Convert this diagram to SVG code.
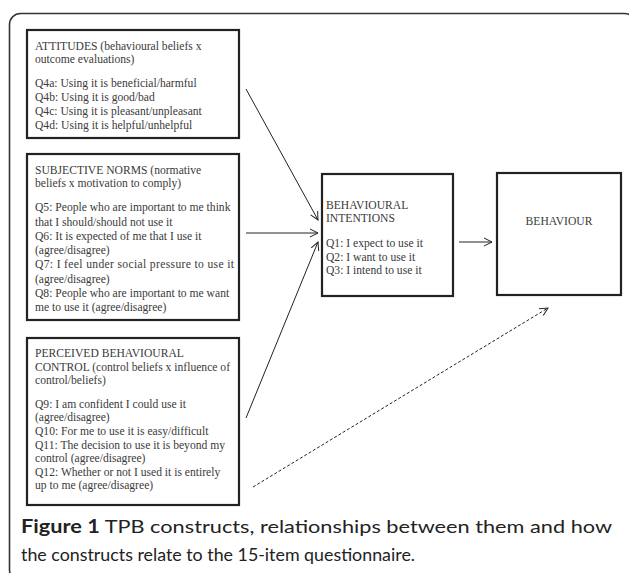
<svg xmlns="http://www.w3.org/2000/svg" width="629" height="573" viewBox="0 0 629 573">
<defs>
<marker id="ah" markerWidth="10" markerHeight="10" refX="9" refY="5" orient="auto" markerUnits="userSpaceOnUse">
<path d="M1,1 L9,5 L1,9" fill="none" stroke="#222" stroke-width="1"/>
</marker>
</defs>
<style>
.box{fill:#fff;stroke:#222;stroke-width:2.2}
.t{font-family:"Liberation Serif","Times New Roman",serif;font-size:11.6px;fill:#3a3a3a}
.c{stroke:#222;stroke-width:1;fill:none}
.cap{font-family:Lato,"Open Sans",sans-serif;font-size:18px;fill:#222}
</style>
<rect x="0" y="0" width="629" height="573" fill="#fff"/>
<rect x="9.5" y="13.5" width="626" height="567" rx="11" fill="none" stroke="#333" stroke-width="1.6"/>

<g id="attitudes">
<rect class="box" x="27" y="30" width="212" height="108"/>
<text class="t" x="35" y="50">ATTITUDES (behavioural beliefs x</text>
<text class="t" x="35" y="63">outcome evaluations)</text>
<text class="t" x="35" y="87">Q4a: Using it is beneficial/harmful</text>
<text class="t" x="35" y="101">Q4b: Using it is good/bad</text>
<text class="t" x="35" y="115">Q4c: Using it is pleasant/unpleasant</text>
<text class="t" x="35" y="129">Q4d: Using it is helpful/unhelpful</text>
</g>

<g id="subjective-norms">
<rect class="box" x="27" y="154" width="212" height="166"/>
<text class="t" x="35" y="174">SUBJECTIVE NORMS (normative</text>
<text class="t" x="35" y="187">beliefs x motivation to comply)</text>
<text class="t" x="35" y="211">Q5: People who are important to me think</text>
<text class="t" x="35" y="225.5">that I should/should not use it</text>
<text class="t" x="35" y="239.5">Q6: It is expected of me that I use it</text>
<text class="t" x="35" y="254">(agree/disagree)</text>
<text class="t" x="35" y="268" textLength="199" lengthAdjust="spacing">Q7: I feel under social pressure to use it</text>
<text class="t" x="35" y="282.5">(agree/disagree)</text>
<text class="t" x="35" y="297">Q8: People who are important to me want</text>
<text class="t" x="35" y="311">me to use it (agree/disagree)</text>
</g>

<g id="pbc">
<rect class="box" x="27" y="338" width="212" height="167"/>
<text class="t" x="35" y="357">PERCEIVED BEHAVIOURAL</text>
<text class="t" x="35" y="371">CONTROL (control beliefs x influence of</text>
<text class="t" x="35" y="383.5">control/beliefs)</text>
<text class="t" x="35" y="408">Q9: I am confident I could use it</text>
<text class="t" x="35" y="421">(agree/disagree)</text>
<text class="t" x="35" y="434.5">Q10: For me to use it is easy/difficult</text>
<text class="t" x="35" y="449">Q11: The decision to use it is beyond my</text>
<text class="t" x="35" y="462">control (agree/disagree)</text>
<text class="t" x="35" y="475.5">Q12: Whether or not I used it is entirely</text>
<text class="t" x="35" y="489">up to me (agree/disagree)</text>
</g>

<g id="intentions">
<rect class="box" x="322" y="174" width="131" height="122"/>
<text class="t" x="326" y="209">BEHAVIOURAL</text>
<text class="t" x="326" y="221.5">INTENTIONS</text>
<text class="t" x="326" y="247">Q1: I expect to use it</text>
<text class="t" x="326" y="260.5">Q2: I want to use it</text>
<text class="t" x="326" y="274">Q3: I intend to use it</text>
</g>

<g id="behaviour">
<rect class="box" x="497" y="173" width="124" height="122"/>
<text class="t" x="559" y="225" text-anchor="middle">BEHAVIOUR</text>
</g>

<g id="connectors">
<line class="c" x1="246" y1="89" x2="318" y2="220" marker-end="url(#ah)"/>
<line class="c" x1="246" y1="233" x2="318" y2="233" marker-end="url(#ah)"/>
<line class="c" x1="246" y1="418" x2="318" y2="242" marker-end="url(#ah)"/>
<line class="c" x1="459" y1="242" x2="492" y2="242" marker-end="url(#ah)"/>
<line class="c" x1="253" y1="487" x2="548" y2="308" stroke-dasharray="3,2" marker-end="url(#ah)"/>
</g>

<g id="caption">
<text class="cap" x="21" y="533" textLength="591" lengthAdjust="spacingAndGlyphs"><tspan font-weight="bold">Figure 1</tspan> TPB constructs, relationships between them and how</text>
<text class="cap" x="21" y="561" textLength="394" lengthAdjust="spacingAndGlyphs">the constructs relate to the 15-item questionnaire.</text>
</g>
</svg>
